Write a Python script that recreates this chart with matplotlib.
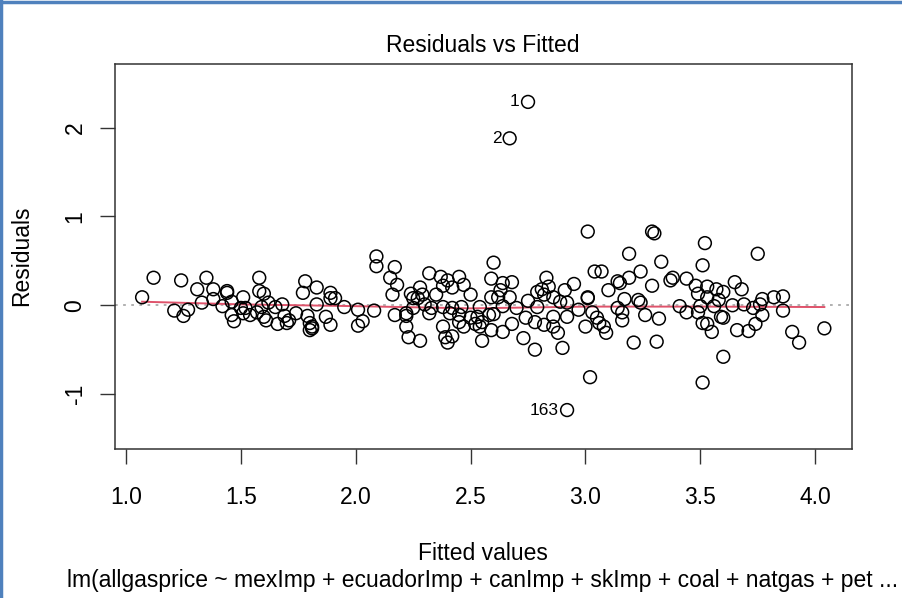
import numpy as np
import matplotlib.pyplot as plt
from matplotlib.lines import Line2D

plt.rcParams['font.family'] = ['Liberation Sans', 'DejaVu Sans']

# fitted values and residuals
fitted = [
    1.07, 1.12, 1.24, 1.35, 1.31, 1.21, 1.25, 1.27, 1.33, 1.38, 1.38, 1.44, 1.44, 1.42, 1.46, 1.46,
    1.47, 1.50, 1.51, 1.52, 1.51, 1.54, 1.58, 1.58, 1.60, 1.62, 1.59, 1.57, 1.60, 1.61, 1.65, 1.68,
    1.69, 1.66, 1.71, 1.70, 1.74, 1.78, 1.77, 1.83, 1.83, 1.79, 1.80, 1.81, 1.80, 1.81, 1.87, 1.89,
    1.89, 1.89, 1.91, 1.95, 2.01, 2.03, 2.01, 2.08, 2.09, 2.09, 2.17, 2.15, 2.18, 2.16, 2.17, 2.24,
    2.22, 2.22, 2.23, 2.28, 2.25, 2.25, 2.28, 2.29, 2.32, 2.35, 2.33, 2.32, 2.37, 2.38, 2.40, 2.38,
    2.38, 2.39, 2.40, 2.27, 2.30, 2.42, 2.46, 2.41, 2.45, 2.22, 2.42, 2.47, 2.45, 2.50, 2.45, 2.42,
    2.47, 2.50, 2.54, 2.53, 2.55, 2.52, 2.54, 2.59, 2.55, 2.64, 2.68, 2.58, 2.60, 2.64, 2.70, 2.59,
    2.62, 2.67, 2.63, 2.64, 2.68, 2.60, 2.59, 2.73, 2.78, 2.74, 2.78, 2.82, 2.75, 2.79, 2.79, 2.82,
    2.81, 2.83, 2.84, 2.86, 2.89, 2.92, 2.97, 2.92, 2.90, 2.88, 2.86, 2.86, 2.95, 2.91, 3.00, 3.01,
    3.01, 3.03, 3.05, 3.06, 3.08, 3.09, 3.01, 3.04, 3.07, 3.10, 3.14, 3.15, 3.19, 3.19, 3.24, 3.29,
    3.29, 3.30, 3.33, 3.37, 3.38, 3.44, 3.17, 3.23, 3.24, 3.14, 3.16, 3.16, 3.26, 3.32, 3.31, 3.21,
    3.02, 3.41, 3.44, 3.48, 3.49, 3.50, 3.49, 3.51, 3.53, 3.55, 3.59, 3.56, 3.53, 3.53, 3.57, 3.58,
    3.60, 3.52, 3.51, 3.51, 3.60, 3.65, 3.68, 3.64, 3.69, 3.73, 3.76, 3.77, 3.75, 3.82, 3.86, 3.86,
    3.77, 3.74, 3.66, 3.71, 3.90, 3.93, 4.04, 3.60,
    2.75, 2.67, 2.92,
]
residuals = [
    0.09, 0.31, 0.28, 0.31, 0.18, -0.06, -0.12, -0.05, 0.03, 0.18, 0.07, 0.16, 0.14, -0.01, 0.04, -0.11,
    -0.18, -0.03, 0.09, -0.03, -0.09, -0.11, 0.31, 0.16, 0.13, 0.03, -0.02, -0.08, -0.13, -0.17, -0.02, 0.01,
    -0.12, -0.21, -0.17, -0.20, -0.09, 0.27, 0.14, 0.20, 0.01, -0.12, -0.20, -0.26, -0.28, -0.24, -0.13, -0.22,
    0.14, 0.08, 0.08, -0.02, -0.05, -0.18, -0.23, -0.06, 0.55, 0.44, 0.43, 0.31, 0.23, 0.12, -0.11, 0.13,
    -0.12, -0.24, -0.36, -0.40, 0.08, -0.03, 0.20, 0.12, 0.36, 0.12, -0.03, -0.09, 0.32, 0.22, 0.28, -0.02,
    -0.24, -0.36, -0.42, 0.08, 0.01, -0.03, -0.02, -0.09, -0.11, -0.09, -0.35, -0.24, -0.19, -0.14, 0.32, 0.20,
    0.23, 0.12, -0.02, -0.13, -0.19, -0.21, -0.24, -0.28, -0.40, -0.30, -0.21, -0.11, -0.10, -0.01, -0.03, 0.09,
    0.09, 0.09, 0.17, 0.25, 0.26, 0.48, 0.30, -0.37, -0.50, -0.14, -0.19, -0.22, 0.05, -0.02, 0.15, 0.12,
    0.18, 0.31, 0.21, 0.09, 0.04, 0.03, -0.05, -0.13, -0.48, -0.31, -0.24, -0.13, 0.24, 0.17, -0.24, 0.09,
    0.08, -0.08, -0.14, -0.20, -0.24, -0.31, 0.83, 0.38, 0.38, 0.17, 0.27, 0.25, 0.31, 0.58, 0.38, 0.22,
    0.83, 0.81, 0.49, 0.28, 0.31, 0.30, 0.07, 0.06, 0.03, -0.03, -0.08, -0.17, -0.11, -0.15, -0.41, -0.42,
    -0.81, -0.01, -0.08, 0.22, 0.13, -0.01, -0.08, -0.20, -0.21, -0.30, -0.13, -0.01, 0.09, 0.21, 0.18, 0.06,
    0.15, 0.70, 0.45, -0.87, -0.58, 0.26, 0.18, 0.00, 0.01, -0.03, 0.01, 0.07, 0.58, 0.09, 0.10, -0.06,
    -0.11, -0.21, -0.28, -0.29, -0.30, -0.42, -0.26, -0.14,
    2.29, 1.88, -1.18,
]

# labelled observations
id_labels = ['1', '2', '163']
id_x = [2.75, 2.67, 2.92]
id_y = [2.29, 1.88, -1.18]

# lowess smoother
smooth_x = [1.07, 1.5, 2.0, 2.5, 3.0, 3.5, 4.04]
smooth_y = [0.04, 0.01, -0.01, -0.035, -0.015, -0.015, -0.02]

fig = plt.figure(figsize=(9.02, 5.98), dpi=100)
ax = fig.add_axes([115/902, 1 - 449.3/598, (851.7 - 115)/902, (449.3 - 64)/598])

ax.axhline(0, color='#aaaaaa', linestyle=(0, (1.5, 3)), linewidth=1.3, zorder=1)
ax.scatter(fitted, residuals, s=85, facecolors='none', edgecolors='black', linewidths=1.1, zorder=3)
ax.plot(smooth_x, smooth_y, color='#DF536B', linewidth=1.4, zorder=2)

for lab, x, y in zip(id_labels, id_x, id_y):
    ax.annotate(lab, (x, y), xytext=(-6, 0), textcoords='offset points',
                ha='right', va='center', fontsize=12.5)

ax.set_xlim(0.952, 4.159)
ax.set_ylim(-1.622, 2.717)
ax.set_xticks([1.0, 1.5, 2.0, 2.5, 3.0, 3.5, 4.0])
ax.set_xticklabels(['1.0', '1.5', '2.0', '2.5', '3.0', '3.5', '4.0'])
ax.set_yticks([-1, 0, 1, 2])
ax.set_yticklabels(['-1', '0', '1', '2'], rotation=90, va='center')
ax.tick_params(axis='both', length=10.5, width=1.0, color='#333333', labelsize=16.5, pad=16)
ax.tick_params(axis='y', pad=10)
for sp in ax.spines.values():
    sp.set_linewidth(1.1)
    sp.set_color('#333333')

fig.text(483/902, 1 - 45/598, 'Residuals vs Fitted', ha='center', va='center', fontsize=16.5)
fig.text(483/902, 1 - 553/598, 'Fitted values', ha='center', va='center', fontsize=16.5)
fig.text(22/902, 1 - 256/598, 'Residuals', ha='center', va='center', rotation=90, fontsize=16.5)
fig.text(483/902, 1 - 580/598,
         'lm(allgasprice ~ mexImp + ecuadorImp + canImp + skImp + coal + natgas + pet ...',
         ha='center', va='center', fontsize=16.5)

# blue frame on the left and top edges of the screenshot
fig.add_artist(Line2D([0.0015, 0.0015], [0, 1], transform=fig.transFigure, color='#4f81bd', linewidth=2.5))
fig.add_artist(Line2D([0, 1], [0.997, 0.997], transform=fig.transFigure, color='#4f81bd', linewidth=2.5))

fig.savefig('out.png', dpi=100)
